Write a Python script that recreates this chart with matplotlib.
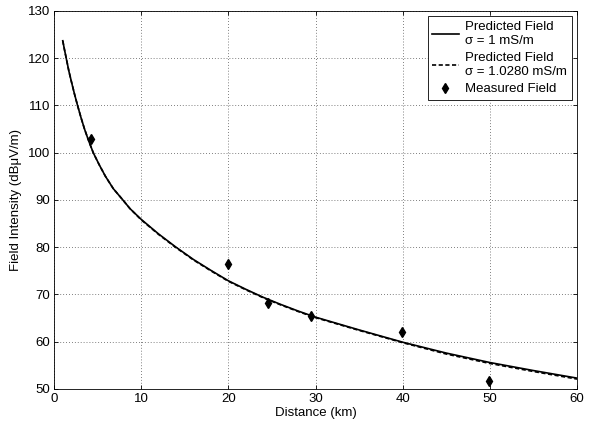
import matplotlib.pyplot as plt

plt.rcParams['font.family'] = ['Liberation Sans', 'DejaVu Sans']

# predicted field, sigma = 1 mS/m
dist_pred = [1.0, 1.2, 1.4, 1.7, 2.0, 2.35, 2.7, 3.1, 3.5, 4.0, 4.5, 5.2, 5.9,
             6.8, 7.9, 8.7, 10, 12, 14, 16, 18, 20, 22, 24, 26, 28, 30,
             35, 40, 45, 50, 55, 60]
field_pred = [123.7, 121.8, 120.0, 117.3, 115.0, 112.4, 110.0, 107.4, 105.0, 102.4, 100.0, 97.4, 95.0,
              92.4, 90.0, 88.2, 85.9, 82.8, 80.0, 77.4, 75.1, 72.9, 71.1, 69.4, 67.9, 66.5, 65.2,
              62.5, 59.9, 57.6, 55.6, 53.9, 52.3]

# predicted field, sigma = 1.0280 mS/m (almost on top of the first one)
field_pred2 = [123.7, 121.8, 120.0, 117.3, 115.0, 112.4, 110.0, 107.4, 105.0, 102.4, 100.0, 97.4, 95.0,
               92.4, 90.0, 88.2, 85.8, 82.7, 79.9, 77.3, 75.0, 72.8, 71.0, 69.3, 67.8, 66.4, 65.1,
               62.4, 59.8, 57.4, 55.4, 53.7, 52.1]

# measured points
dist_meas = [4.2, 20.0, 24.5, 29.5, 39.9, 49.9]
field_meas = [103.0, 76.5, 68.1, 65.5, 62.1, 51.7]

fig = plt.figure(figsize=(5.99, 4.26), dpi=100)
ax = fig.add_axes([0.0902, 0.0869, 0.8731, 0.8873])

ax.plot(dist_pred, field_pred, color='k', lw=1.2, label='Predicted Field\n\u03c3 = 1 mS/m')
ax.plot(dist_pred, field_pred2, color='k', lw=1.2, ls=(0, (2.5, 1.5)),
        label='Predicted Field\n\u03c3 = 1.0280 mS/m')
ax.plot(dist_meas, field_meas, 'kd', ms=5.5, ls='none', label='Measured Field')

ax.set_xlim(0, 60)
ax.set_ylim(50, 130)
ax.set_xticks(range(0, 61, 10))
ax.set_yticks(range(50, 131, 10))
ax.tick_params(direction='in', top=True, right=True, labelsize=9.5, length=3, width=0.6, pad=3)
for s in ax.spines.values():
    s.set_linewidth(0.6)

ax.grid(True, color='#555555', ls=(0, (1, 2.5)), lw=0.6)

ax.set_xlabel('Distance (km)', fontsize=9.5, labelpad=1)
ax.set_ylabel('Field Intensity (dB\u03bcV/m)', fontsize=9.5, labelpad=4)

leg = ax.legend(loc='upper right', fontsize=9.5, handlelength=2.0, fancybox=False,
                edgecolor='k', framealpha=1, borderaxespad=0.4, labelspacing=0.4,
                handletextpad=0.5, borderpad=0.35)
leg.get_frame().set_linewidth(0.6)

fig.savefig('out.png', dpi=100)
